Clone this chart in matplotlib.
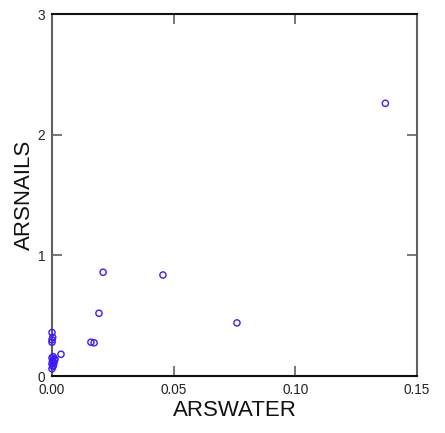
import matplotlib
matplotlib.use("Agg")
import matplotlib.pyplot as plt

# Data
arswater = [0.137, 0.0456, 0.021, 0.0193, 0.076, 0.016, 0.0173, 0.0037,
            0.0, 0.0003, 0.0, 0.0,
            0.0, 0.0005, 0.001, 0.0002, 0.0008, 0.0, 0.0004, 0.0012, 0.0, 0.0006]
arsnails = [2.26, 0.837, 0.86, 0.52, 0.44, 0.28, 0.275, 0.18,
            0.36, 0.32, 0.28,  0.30,
            0.15, 0.16, 0.13, 0.12, 0.11, 0.10, 0.08, 0.14, 0.06, 0.09]

xticks = [0.00, 0.05, 0.10, 0.15]
xticklabels = ["0.00", "0.05", "0.10", "0.15"]
yticks = [0, 1, 2, 3]
yticklabels = ["0", "1", "2", "3"]

plt.rcParams['font.family'] = ['Liberation Sans', 'DejaVu Sans']

fig = plt.figure(figsize=(4.45, 4.33), dpi=100)
ax = fig.add_axes([52/445, 1-376/433, (417-52)/445, (376-14)/433])

ax.scatter(arswater, arsnails, s=20, facecolors='none', edgecolors='#3a1aff',
           linewidths=1.0, zorder=3, clip_on=False)

ax.set_xlim(0, 0.15)
ax.set_ylim(0, 3)
ax.set_xticks(xticks)
ax.set_xticklabels(xticklabels)
ax.set_yticks(yticks)
ax.set_yticklabels(yticklabels)

ax.tick_params(direction='in', length=7.5, width=1.2, color='#606060',
               labelsize=9.8, labelcolor='#222222', top=True, right=True, pad=5)

for side in ['left', 'right']:
    ax.spines[side].set_color('#606060')
    ax.spines[side].set_linewidth(1.5)
for side in ['top', 'bottom']:
    ax.spines[side].set_color('#111111')
    ax.spines[side].set_linewidth(1.5)

ax.set_xlabel("ARSWATER", fontsize=16, color='#111111', labelpad=2)
ax.set_ylabel("ARSNAILS", fontsize=16, color='#111111', labelpad=2)

fig.savefig("out.png", dpi=100)
